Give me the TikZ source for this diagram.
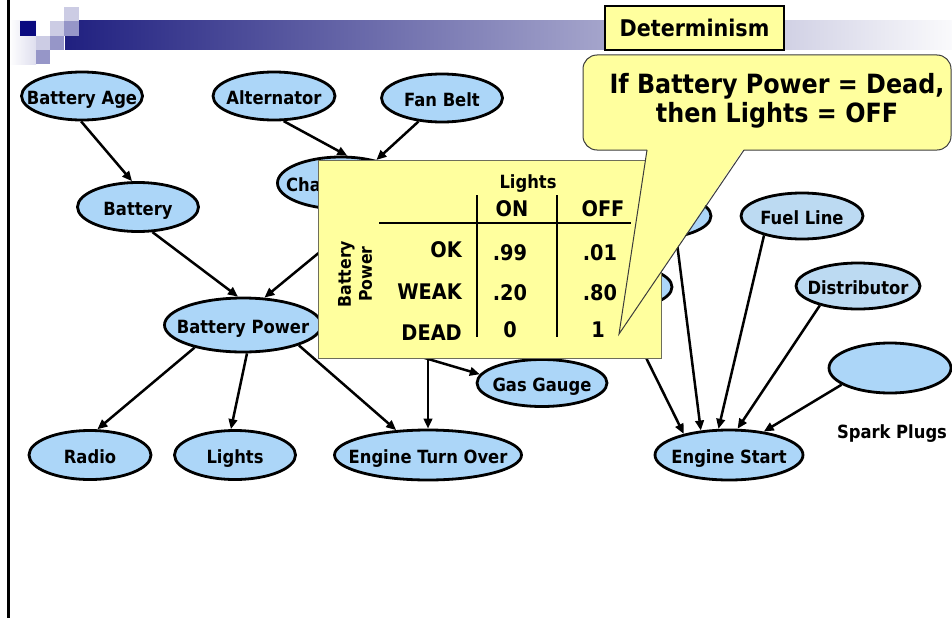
\documentclass[tikz,border=0pt]{standalone}
\usepackage{fontspec}
\setmainfont{DejaVu Sans Condensed}
\usetikzlibrary{shapes.geometric,arrows.meta}

\definecolor{nodeblue}{RGB}{172,214,248}
\definecolor{paleblue}{RGB}{188,218,242}
\definecolor{noteyellow}{RGB}{255,255,158}
\definecolor{navy}{RGB}{10,10,128}
\definecolor{barstart}{RGB}{32,32,128}
\definecolor{barmid}{RGB}{175,175,202}
\definecolor{barend}{RGB}{250,250,252}
\definecolor{lavlight}{RGB}{204,204,228}
\definecolor{lavmid}{RGB}{150,150,200}
\definecolor{lavfade}{RGB}{222,222,238}
\definecolor{edgegray}{RGB}{110,110,90}
\definecolor{calloutedge}{RGB}{60,60,60}

\newcommand\nodefont{\fontsize{18.2}{21}\selectfont\bfseries}
\newcommand\cellfont{\fontsize{21.5}{25}\selectfont\bfseries}
\newcommand\notefont{\fontsize{26.5}{31}\selectfont\bfseries}
\newcommand\titlefont{\fontsize{23}{27}\selectfont\bfseries}

\begin{document}
\begin{tikzpicture}[x=1pt,y=-1pt,
  bn/.style={ellipse, draw=black, line width=2.8pt, fill=nodeblue, inner sep=0pt},
  every label/.style={font=\nodefont, inner sep=0pt, text height=17.5pt, text depth=0pt},
  arr/.style={line width=2.5pt, -{Triangle[length=10pt,width=8.5pt]}},
  txt/.style={font=\nodefont, inner sep=0pt, text height=17.5pt, text depth=0pt},
  cell/.style={font=\cellfont, inner sep=0pt},
  tablerule/.style={line width=1.2pt}
]
\useasboundingbox (0,0) rectangle (952,618);

% slide banner: faded strip, chequered squares and gradient bar
\shade[left color=white, right color=lavfade] (9,21) rectangle (36,64);
\shade[left color=barstart, middle color=barmid, right color=barend] (65,21) rectangle (952,50);
\fill[navy] (20,21) rectangle (36,36);
\fill[lavlight] (64,7) rectangle (79,21);
\fill[lavlight] (50,21) rectangle (64,36);
\fill[lavmid] (64,21) rectangle (79,36);
\fill[lavlight] (36,36) rectangle (50,50);
\fill[lavmid] (50,36) rectangle (64,50);
\fill[lavmid] (36,50) rectangle (50,64);
\draw[line width=2.6pt] (8.5,0) -- (8.5,618);

% title tag
\node[draw=black, line width=2.4pt, fill=noteyellow, minimum width=179, minimum height=44,
      inner sep=0pt, font=\titlefont] (det) at (694.5,28) {Determinism};

% network nodes
\node[bn, minimum width=121, minimum height=48, label=center:Battery Age] (bage) at (82,96) {};
\node[bn, minimum width=122, minimum height=48, label=center:Alternator] (alt) at (274,96) {};
\node[bn, minimum width=121, minimum height=48, label=center:Fan Belt] (fan) at (442,98) {};
\node[bn, minimum width=121, minimum height=49, label=center:Battery] (batt) at (138,207) {};
\node[bn, minimum width=127, minimum height=52] (charge) at (341,183) {};
\node[txt, anchor=west] (chargetext) at (286,183) {Charging};
\node[bn, minimum width=157, minimum height=54, label=center:Battery Power] (bp) at (243,325) {};
\node[bn, minimum width=122, minimum height=49, label=center:Radio] (radio) at (90,455) {};
\node[bn, minimum width=121, minimum height=49, label=center:Lights] (lights) at (235,455) {};
\node[bn, minimum width=187, minimum height=50, label=center:Engine Turn Over] (eto) at (428,455) {};
\node[bn, minimum width=130, minimum height=47, label=center:Gas Gauge] (gas) at (542,383) {};
\node[bn, minimum width=148, minimum height=50, label=center:Engine Start] (es) at (729,455) {};
\node[bn, fill=paleblue, minimum width=122, minimum height=46, label=center:Fuel Line] (fuel) at (802,216) {};
\node[bn, fill=paleblue, minimum width=124, minimum height=46, label=center:Distributor] (dist) at (858,286) {};
\node[bn, minimum width=122, minimum height=50] (spark) at (890,368) {};
\node[txt] (sparktext) at (892,430) {Spark Plugs};
\node[bn, minimum width=122, minimum height=46] (uphid) at (650,216) {};
\node[bn, minimum width=122, minimum height=46] (lowhid) at (611,287) {};
\coordinate (starter) at (428,330);

% dependencies
\draw[arr] (bage.-92) -- (batt.103);
\draw[arr] (alt.-69) -- (charge.77);
\draw[arr] (fan.225) -- (charge.33);
\draw[arr] (batt.-60) -- (bp.100);
\draw[arr] (charge.-34) -- (bp.52);
\draw[arr] (bp.205) -- (radio.74);
\draw[arr] (bp.-82) -- (lights.99);
\draw[arr] (bp.-20) -- (eto.142);
\draw[arr] (bp.-2) -- (gas.172);
\draw[arr] (starter) -- (eto.north);
\draw[arr] (lowhid) -- (es.155);
\draw[arr] (uphid.-40) -- (es.139);
\draw[arr] (fuel.207) -- (es.112);
\draw[arr] (dist.207) -- (es.72);
\draw[arr] (spark.199) -- (es.34);

% conditional probability table for Lights
\node[draw=edgegray, line width=1pt, fill=noteyellow, minimum width=343, minimum height=198,
      inner sep=0pt, anchor=north west] (tbl) at (318,160) {};
\node[txt] (hdr) at (528,180) {Lights};
\node[cell] (on) at (512,209) {ON};
\node[cell] (off) at (603,209) {OFF};
\draw[tablerule] (379,223) -- (631,223);
\draw[tablerule] (477,195) -- (477,337);
\draw[tablerule] (557,195) -- (557,337);
\node[font=\fontsize{17.5}{21}\selectfont\bfseries, rotate=90, align=center, inner sep=0pt] (bpow) at (355,274) {Battery\\Power};
\node[cell, anchor=east] (ok) at (462,250) {OK};
\node[cell, anchor=east] (weak) at (462,292) {WEAK};
\node[cell, anchor=east] (dead) at (462,333) {DEAD};
\node[cell] (p1) at (510,253) {.99};
\node[cell] (p2) at (600,253) {.01};
\node[cell] (p3) at (510,293) {.20};
\node[cell] (p4) at (600,293) {.80};
\node[cell] (p5) at (510,330) {0};
\node[cell] (p6) at (598,330) {1};

% speech callout
\fill[noteyellow, rounded corners=14pt] (583,55) rectangle (951,150);
\fill[noteyellow] (647,148) -- (619,334) -- (744,148) -- cycle;
\draw[line width=1pt, draw=calloutedge, rounded corners=14pt]
  (647,150) -- (583,150) -- (583,55) -- (951,55) -- (951,150) -- (744,150);
\draw[line width=1pt, draw=calloutedge] (744,150) -- (619,334) -- (647,150);
\node[font=\notefont, anchor=base, inner sep=0pt] (note1) at (777,93) {If Battery Power = Dead,};
\node[font=\notefont, anchor=base, inner sep=0pt] (note2) at (777,122) {then Lights = OFF};
\end{tikzpicture}
\end{document}
